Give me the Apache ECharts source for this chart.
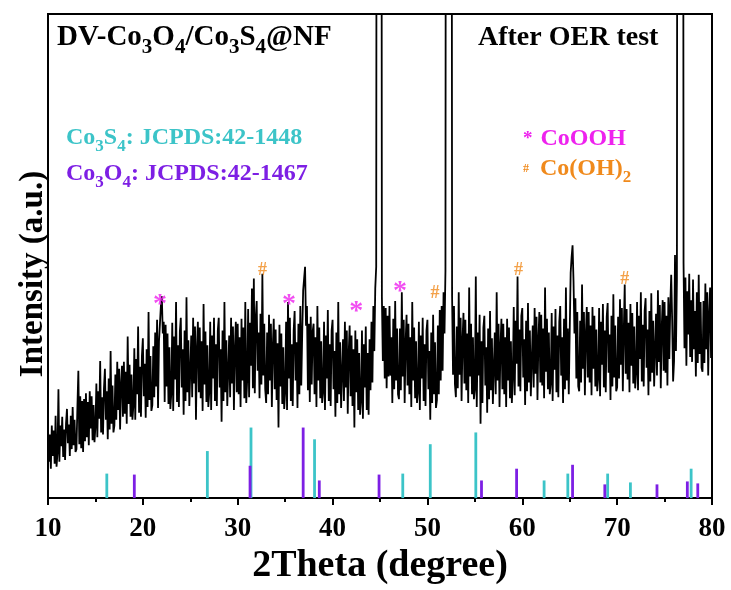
<!DOCTYPE html>
<html>
<head>
<meta charset="utf-8">
<script src="https://cdn.jsdelivr.net/npm/echarts@6/dist/echarts.min.js"></script>
<style>
html, body { margin: 0; padding: 0; background: #ffffff; }
#chart { width: 731px; height: 590px; }
</style>
</head>
<body>
<div id="chart"></div>
<script>
// XRD scan: 2θ from 10° to 80° in 0.1° steps
const twoThetaStart = 10;
const twoThetaStep = 0.1;
const intensity = [
  71, 37, 65, 30, 74, 43, 69, 35, 84, 32,
  46, 111, 37, 74, 53, 83, 42, 70, 39, 76,
  91, 56, 75, 43, 84, 50, 93, 54, 80, 47,
  50, 93, 130, 55, 104, 51, 99, 47, 101, 58,
  107, 62, 98, 54, 109, 71, 104, 59, 95, 57,
  73, 117, 62, 109, 81, 140, 67, 103, 65, 112,
  132, 80, 109, 60, 122, 70, 150, 76, 115, 67,
  74, 126, 80, 139, 90, 132, 70, 116, 135, 83,
  139, 86, 129, 76, 165, 96, 136, 83, 126, 80,
  94, 153, 80, 142, 106, 175, 87, 134, 83, 145,
  163, 104, 137, 82, 152, 93, 190, 100, 145, 89,
  95, 155, 103, 169, 114, 182, 92, 160, 178, 196,
  206, 168, 180, 98, 177, 114, 168, 96, 154, 91,
  107, 179, 89, 165, 121, 200, 98, 156, 93, 170,
  184, 113, 152, 85, 171, 99, 205, 108, 161, 94,
  94, 166, 103, 184, 117, 175, 80, 152, 180, 108,
  174, 102, 160, 89, 198, 116, 170, 98, 156, 93,
  108, 180, 90, 166, 122, 184, 99, 157, 94, 171,
  184, 113, 152, 78, 171, 99, 200, 108, 161, 94,
  94, 166, 103, 184, 117, 175, 90, 152, 180, 108,
  178, 106, 164, 93, 183, 120, 174, 102, 200, 97,
  121, 193, 103, 179, 135, 214, 112, 224, 107, 184,
  201, 130, 169, 102, 188, 116, 229, 125, 178, 111,
  97, 169, 106, 187, 120, 178, 93, 155, 183, 111,
  172, 100, 158, 72, 177, 114, 168, 96, 154, 91,
  108, 180, 90, 200, 122, 184, 99, 157, 94, 171,
  191, 120, 159, 92, 178, 106, 196, 115, 168, 212,
  224, 236, 176, 196, 110, 178, 98, 185, 116, 170,
  178, 106, 164, 93, 196, 120, 174, 102, 160, 97,
  108, 180, 90, 166, 122, 192, 99, 157, 94, 171,
  182, 111, 150, 83, 169, 97, 200, 106, 159, 92,
  90, 162, 99, 180, 113, 171, 86, 148, 176, 104,
  166, 94, 152, 72, 171, 108, 162, 90, 148, 85,
  99, 171, 81, 157, 113, 175, 90, 148, 85, 162,
  110, 180, 118, 196, 150, 214, 236, 1500, 2000, 2000,
  2000, 1500, 205, 140, 196, 122, 194, 112, 186, 124,
  196, 125, 164, 97, 183, 111, 201, 120, 173, 106,
  101, 173, 110, 210, 124, 182, 97, 159, 187, 115,
  178, 106, 164, 93, 200, 120, 174, 102, 160, 97,
  108, 180, 90, 166, 122, 184, 99, 157, 94, 171,
  182, 111, 150, 80, 169, 97, 187, 106, 159, 92,
  100, 176, 106, 192, 120, 196, 130, 210, 168, 232,
  1500, 2000, 2000, 2000, 2000, 1500, 206, 126, 196, 116,
  103, 175, 112, 210, 126, 184, 99, 161, 189, 117,
  182, 110, 168, 97, 215, 124, 178, 106, 164, 101,
  111, 226, 93, 169, 125, 187, 76, 160, 97, 174,
  186, 115, 154, 87, 173, 101, 191, 110, 163, 96,
  97, 169, 106, 210, 120, 178, 93, 155, 183, 111,
  178, 106, 164, 93, 183, 120, 174, 102, 160, 97,
  123, 195, 105, 181, 137, 226, 114, 172, 109, 186,
  194, 123, 162, 95, 181, 109, 199, 118, 171, 104,
  104, 176, 113, 194, 127, 185, 100, 162, 190, 118,
  187, 115, 173, 102, 215, 129, 183, 111, 169, 106,
  117, 189, 99, 175, 131, 193, 108, 166, 103, 180,
  196, 125, 164, 97, 183, 111, 215, 120, 173, 106,
  170, 230, 246, 258, 222, 168, 204, 122, 190, 114,
  109, 181, 118, 218, 132, 190, 105, 167, 195, 123,
  190, 118, 176, 105, 195, 132, 186, 114, 172, 109,
  122, 194, 104, 180, 136, 198, 113, 171, 108, 185,
  199, 128, 167, 100, 186, 114, 208, 123, 176, 109,
  113, 185, 122, 203, 136, 194, 109, 171, 218, 127,
  193, 121, 179, 108, 198, 135, 189, 117, 175, 112,
  128, 200, 110, 186, 142, 210, 119, 177, 114, 191,
  204, 133, 172, 105, 191, 119, 209, 128, 181, 114,
  116, 188, 125, 212, 139, 197, 112, 174, 202, 130,
  200, 128, 186, 115, 205, 142, 196, 228, 182, 119,
  140, 248, 150, 222, 1500, 2000, 2000, 2000, 2000, 1500,
  240, 153, 225, 135, 211, 167, 229, 144, 202, 139,
  223, 152, 191, 124, 210, 138, 228, 147, 200, 133,
  129, 201, 138, 219, 152, 210, 125, 187, 215, 143,
  160
];

// Reference patterns (stick positions in 2θ and relative heights)
const co3s4Peaks   = [16.2, 26.8, 31.4, 38.1, 47.4, 50.3, 55.1, 62.3, 64.8, 69.0, 71.4, 77.8];
const co3s4Heights = [25, 48, 72, 60, 25, 55, 67, 18, 25, 25, 16, 30];
const co3o4Peaks   = [19.1, 31.3, 36.9, 38.6, 44.9, 55.7, 59.4, 65.3, 68.7, 74.2, 77.4, 78.5];
const co3o4Heights = [24, 33, 72, 18, 24, 18, 30, 34, 14, 14, 17, 15];

// Phase markers placed above the pattern
const cooohMarks = [[21.8, 208], [35.4, 207], [42.5, 200], [47.1, 221]];
const cooh2Marks = [[32.6, 239], [50.8, 215], [59.6, 239], [70.8, 229]];

const xTicks = [10, 20, 30, 40, 50, 60, 70, 80];

const serif = '"Liberation Serif", "Times New Roman", serif';
const CYAN = '#3cc4c8';
const PURPLE = '#7d1fe4';
const MAGENTA = '#ee22ee';
const ORANGE = '#f08a1c';

const scan = intensity.map((v, i) => [+(twoThetaStart + i * twoThetaStep).toFixed(1), v]);
const pairs = (xs, hs) => xs.map((x, i) => [x, hs[i]]);

function stickSeries(name, data, color) {
  return {
    name, type: 'custom', data,
    renderItem(params, api) {
      const base = api.coord([api.value(0), 0]);
      const top = api.coord([api.value(0), api.value(1)]);
      return {
        type: 'rect',
        shape: { x: base[0] - 1.4, y: top[1], width: 2.8, height: base[1] - top[1] },
        style: { fill: color }
      };
    },
    z: 3
  };
}

function markSeries(data, symbolText, color, size, dy) {
  return {
    type: 'scatter', data, symbolSize: 1,
    itemStyle: { color: 'transparent' },
    label: {
      show: true, position: 'inside', formatter: symbolText,
      color, fontFamily: serif, fontWeight: 'bold', fontSize: size, offset: [0, dy]
    },
    z: 5
  };
}

// rich-text styles for chemical formulas with subscripts
function richStyles(size, subSize, color) {
  const lh = Math.round(size * 1.4);
  return {
    m: { fontFamily: serif, fontWeight: 'bold', fontSize: size, lineHeight: lh, fill: color },
    s: { fontFamily: serif, fontWeight: 'bold', fontSize: subSize, lineHeight: subSize, fill: color, verticalAlign: 'bottom' }
  };
}

const chart = echarts.init(document.getElementById('chart'), null, { renderer: 'canvas' });

chart.setOption({
  animation: false,
  backgroundColor: '#ffffff',
  grid: { left: 48, right: 19, top: 14, bottom: 82, show: true, borderColor: '#000', borderWidth: 2, backgroundColor: 'transparent' },
  xAxis: {
    type: 'value', min: 10, max: 80, interval: 10,
    axisLine: { show: true, onZero: false, lineStyle: { color: '#000', width: 2 } },
    axisTick: { show: true, length: 7, lineStyle: { color: '#000', width: 2 } },
    minorTick: { show: true, splitNumber: 2, length: 4, lineStyle: { color: '#000', width: 2 } },
    splitLine: { show: false },
    axisLabel: {
      color: '#000', fontFamily: serif, fontWeight: 'bold', fontSize: 27, margin: 17,
      formatter: v => (xTicks.includes(v) ? String(v) : '')
    },
    name: '2Theta (degree)', nameLocation: 'middle', nameGap: 39,
    nameTextStyle: { color: '#000', fontFamily: serif, fontWeight: 'bold', fontSize: 38 }
  },
  yAxis: {
    type: 'value', min: 0, max: 494,
    axisLine: { show: true, lineStyle: { color: '#000', width: 2 } },
    axisTick: { show: false }, axisLabel: { show: false }, splitLine: { show: false }
  },
  series: [
    {
      name: 'pattern', type: 'line', data: scan, showSymbol: false, clip: true,
      lineStyle: { color: '#000', width: 1.8, join: 'bevel' }, z: 2
    },
    stickSeries('Co3S4', pairs(co3s4Peaks, co3s4Heights), CYAN),
    stickSeries('Co3O4', pairs(co3o4Peaks, co3o4Heights), PURPLE),
    markSeries(cooohMarks, '*', MAGENTA, 28, 10),
    markSeries(cooh2Marks, '#', ORANGE, 18, 6)
  ],
  graphic: [
    {
      type: 'text', x: 33, y: 274, rotation: Math.PI / 2,
      style: { text: 'Intensity (a.u.)', fontFamily: serif, fontWeight: 'bold', fontSize: 33, fill: '#000', align: 'center', verticalAlign: 'middle' }
    },
    {
      type: 'text', x: 57, y: 17,
      style: {
        text: '{m|DV-Co}{s|3}{m|O}{s|4}{m|/Co}{s|3}{m|S}{s|4}{m|@NF}',
        rich: richStyles(29, 21, '#000'), verticalAlign: 'top'
      }
    },
    {
      type: 'text', x: 478, y: 18,
      style: { text: '{m|After OER test}', rich: richStyles(28, 21, '#000'), verticalAlign: 'top' }
    },
    {
      type: 'text', x: 66, y: 121,
      style: { text: '{m|Co}{s|3}{m|S}{s|4}{m|: JCPDS:42-1448}', rich: richStyles(24, 17, CYAN), verticalAlign: 'top' }
    },
    {
      type: 'text', x: 66, y: 157,
      style: { text: '{m|Co}{s|3}{m|O}{s|4}{m|: JCPDS:42-1467}', rich: richStyles(24, 17, PURPLE), verticalAlign: 'top' }
    },
    {
      type: 'text', x: 523, y: 122,
      style: {
        text: '{a|*}{m|CoOOH}',
        rich: Object.assign(richStyles(24, 17, MAGENTA), {
          a: { fontFamily: serif, fontWeight: 'bold', fontSize: 19, lineHeight: 30, fill: MAGENTA, verticalAlign: 'middle', padding: [0, 8, 0, 0] }
        }),
        verticalAlign: 'top'
      }
    },
    {
      type: 'text', x: 523, y: 152,
      style: {
        text: '{a|#}{m|Co(OH)}{s|2}',
        rich: Object.assign(richStyles(24, 17, ORANGE), {
          a: { fontFamily: serif, fontWeight: 'bold', fontSize: 12, lineHeight: 34, fill: ORANGE, padding: [0, 11, 0, 0] }
        }),
        verticalAlign: 'top'
      }
    }
  ]
});
</script>
</body>
</html>
